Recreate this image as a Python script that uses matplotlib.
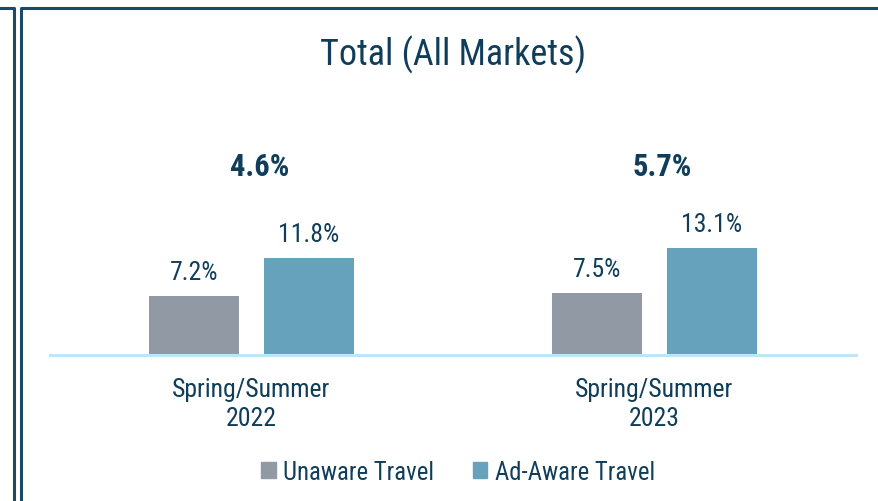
import matplotlib
matplotlib.use("Agg")
import matplotlib.pyplot as plt
from matplotlib.patches import Patch
from matplotlib.lines import Line2D
import numpy as np

categories = ["Spring/Summer\n2022", "Spring/Summer\n2023"]
series_names = ["Unaware Travel", "Ad-Aware Travel"]
unaware = [7.2, 7.5]
ad_aware = [11.8, 13.1]
diff_labels = ["4.6%", "5.7%"]
title = "Total (All Markets)"

plt.rcParams['font.family'] = ['Roboto Condensed', 'DejaVu Sans']

TXT = "#0f3d5a"
GRAY = "#9099a4"
TEAL = "#67a2bd"
BASE = "#bde6f8"
FRAME = "#1c4a66"

W, H = 879, 502
fig = plt.figure(figsize=(W/100, H/100), dpi=100)
fig.patch.set_facecolor("white")

ax = fig.add_axes([50/W, 146/H, 806/W, 256/H])
x = np.arange(len(categories))
bw = 0.223
off = 0.1427
b1 = ax.bar(x - off, unaware, bw, color=GRAY, label=series_names[0])
b2 = ax.bar(x + off, ad_aware, bw, color=TEAL, label=series_names[1])
ax.set_xlim(-0.5, 1.5)
ax.set_ylim(0, 31.2)
for s in ax.spines.values():
    s.set_visible(False)
ax.axhline(0, color=BASE, lw=2.2, clip_on=False)
ax.set_yticks([])
ax.set_xticks(x)
ax.set_xticklabels(categories, fontsize=18.5, color=TXT, linespacing=1.25)
ax.tick_params(axis='x', length=0, pad=16)

for bars, vals in ((b1, unaware), (b2, ad_aware)):
    for r, v in zip(bars, vals):
        ax.annotate(f"{v:.1f}%", (r.get_x() + r.get_width()/2, v),
                    xytext=(0, 24), textcoords='offset pixels',
                    ha='center', va='center', fontsize=18.5, color=TXT)

for xi, d in zip(x, diff_labels):
    ax.text(xi + 0.02, 23.05, d, ha='center', va='center', fontsize=22,
            fontweight='bold', color=TXT)

fig.text(453/W, 1 - 55/H, title, ha='center', va='center', fontsize=26, color=TXT)

handles = [Patch(color=GRAY, label=series_names[0]), Patch(color=TEAL, label=series_names[1])]
fig.legend(handles=handles, loc='center', bbox_to_anchor=(458/W, 1 - 473/H), ncol=2,
           frameon=False, fontsize=17.8, handlelength=0.6, handleheight=0.6,
           handletextpad=0.3, columnspacing=1.55, labelcolor=TXT)

def fline(xs, ys):
    fig.add_artist(Line2D([v/W for v in xs], [1 - v/H for v in ys], color=FRAME, lw=2.2,
                          transform=fig.transFigure))
fline([0, 14, 14], [9, 9, H])
fline([21, 21, W], [H, 9, 9])

fig.savefig("out.png", dpi=100)
